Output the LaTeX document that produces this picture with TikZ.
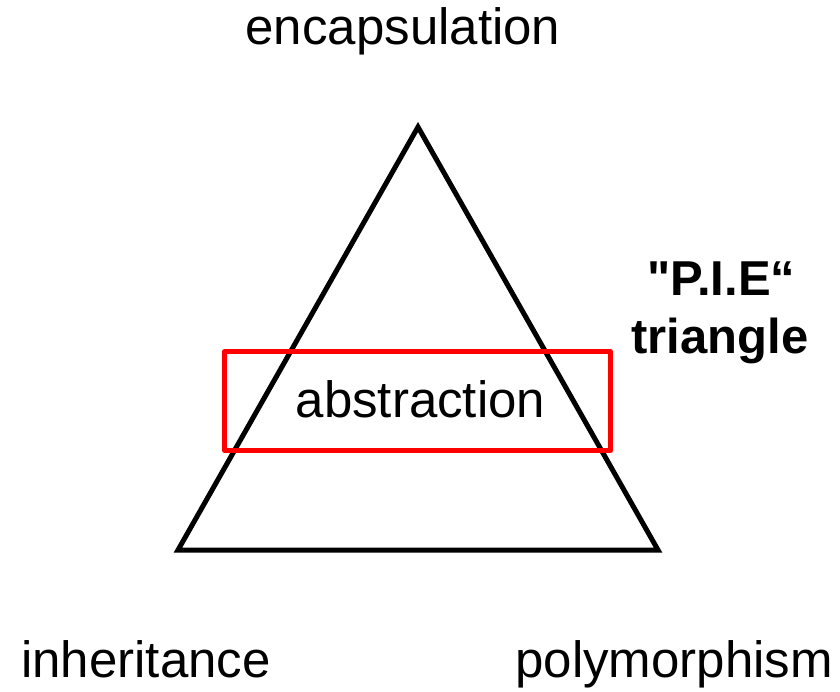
\documentclass[tikz,border=0pt]{standalone}
\usepackage{fontspec}
\setmainfont{Liberation Sans}
\newfontfamily\piefont{Liberation Sans}[Ligatures=TeXOff]
\begin{document}
\begin{tikzpicture}[x=1pt,y=-1pt,
  lbl/.style={anchor=base,inner sep=0pt,font=\fontsize{51}{58}\selectfont},
  pie/.style={anchor=base,inner sep=0pt,font=\fontsize{49}{58}\piefont\bfseries\selectfont},
  tri/.style={draw=black,line width=5pt,miter limit=10},
  box/.style={draw=red,line width=5pt,line join=round}]
\useasboundingbox[fill=white] (0,0) rectangle (840,691);
\coordinate (apex) at (418,127);
\coordinate (bl) at (178,550);
\coordinate (br) at (658,550);
\draw[tri] (apex) -- (bl) -- (br) -- cycle;
\node[box,minimum width=386pt,minimum height=99pt,inner sep=0pt] (abs) at (417.5,401) {};
\node[lbl] (abstext) at (420.5,417) {abstraction};
\node[lbl] (enc) at (403,44) {encapsulation};
\node[lbl] (inh) at (146,677) {inheritance};
\node[lbl] (poly) at (674,677) {polymorphism};
\node[pie] (pie1) at (721.5,295) {"P.I.E“};
\node[pie] (pie2) at (720,353) {triangle};
\end{tikzpicture}
\end{document}
